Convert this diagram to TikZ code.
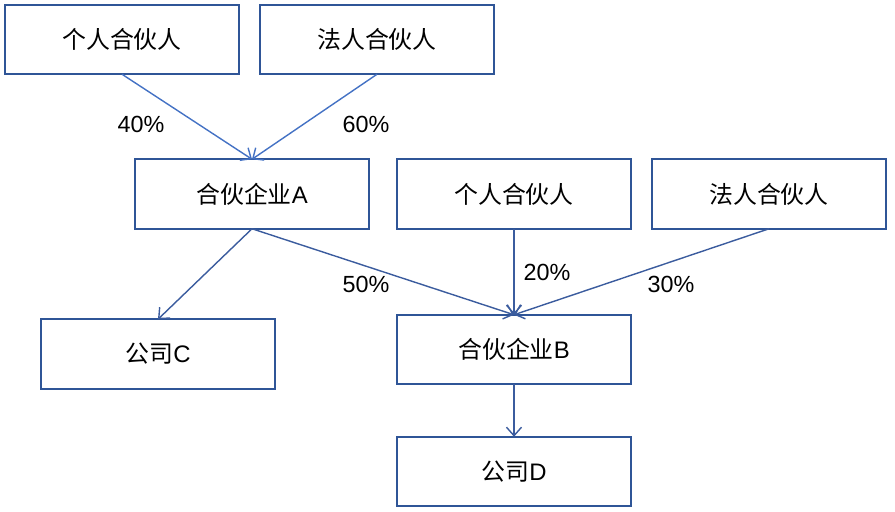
\documentclass[tikz,border=0pt]{standalone}
\usepackage{fontspec}
\setmainfont{Liberation Sans}
\newfontfamily\cjk{Noto Sans CJK SC}
\usetikzlibrary{arrows.meta, positioning}
\definecolor{BoxBlue}{HTML}{2F5597}
\definecolor{LinkBlue}{HTML}{4472C4}
\definecolor{LinkDark}{HTML}{3B5C9E}

\begin{document}
\begin{tikzpicture}[
        x=0.02cm, y=-0.02cm,
        party/.style={rectangle, draw=BoxBlue, line width=1.1pt, fill=white, minimum width=4.68cm, minimum height=1.39cm, inner sep=0pt, outer sep=0pt, align=center, font=\fontsize{13.6}{16}\selectfont},
        share/.style={font=\fontsize{13.3}{16}\selectfont, inner sep=1pt},
        arr/.style={-{Straight Barb[length=0.17cm, width=0.3cm]}, line width=0.8pt, LinkDark},
        arrtop/.style={arr, LinkBlue}
      ]
        \useasboundingbox (0,0) rectangle (895,511);

        % top row
        \node[party] (gp1) at (122,39.5) {{\cjk 个人合伙人}};
        \node[party] (fp1) at (377,39.5) {{\cjk 法人合伙人}};

        % middle row
        \node[party] (fa) at (252,194) {{\cjk 合伙企业}A};
        \node[party] (gp2) at (514,194) {{\cjk 个人合伙人}};
        \node[party] (fp2) at (769,194) {{\cjk 法人合伙人}};

        % lower rows
        \node[party] (coc) at (158,354) {{\cjk 公司}C};
        \node[party] (fb) at (514,349.5) {{\cjk 合伙企业}B};
        \node[party] (cod) at (514,471.5) {{\cjk 公司}D};

        \draw[arrtop] (gp1.south) -- (fa.north);
        \draw[arrtop] (fp1.south) -- (fa.north);
        \draw[arr] (fa.south) -- (coc.north);
        \draw[arr] (fa.south) -- (fb.north);
        \draw[arr] (gp2.south) -- (fb.north);
        \draw[arr] (fp2.south) -- (fb.north);
        \draw[arr] (fb.south) -- (cod.north);

        % shares
        \node[share] (s40) at (141,124) {40\%};
        \node[share] (s60) at (366,124) {60\%};
        \node[share] (s50) at (366,284) {50\%};
        \node[share] (s20) at (547,272) {20\%};
        \node[share] (s30) at (671,284) {30\%};
      \end{tikzpicture}
\end{document}
